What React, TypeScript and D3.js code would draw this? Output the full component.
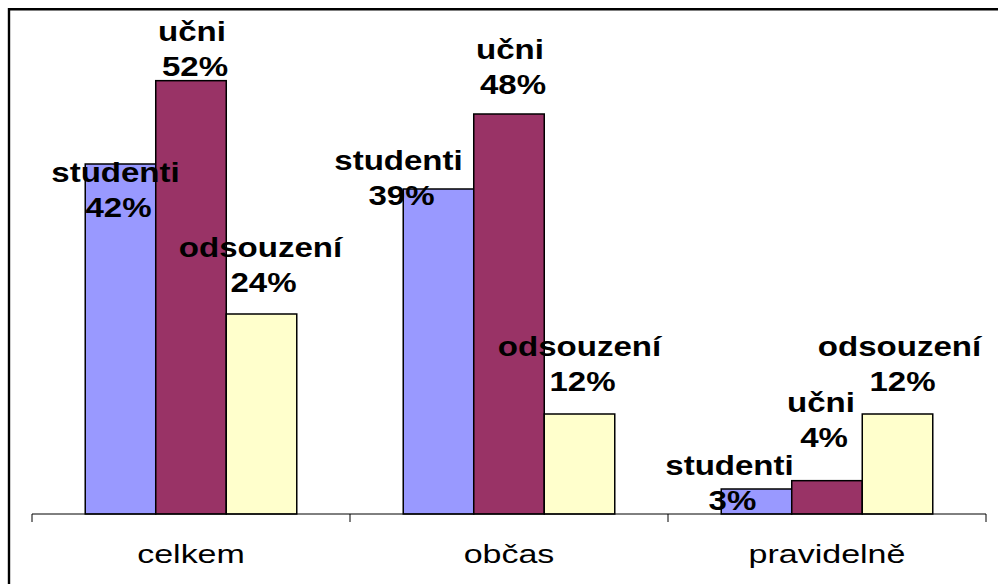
import React from "react";
import * as d3 from "d3";

// ---- data ----
const categories = ["celkem", "občas", "pravidelně"];
const seriesNames = ["studenti", "učni", "odsouzení"];
const studenti = [42, 39, 3];
const ucni = [52, 48, 4];
const odsouzeni = [24, 12, 12];
const seriesValues = [studenti, ucni, odsouzeni];
const seriesColors = ["#9999FF", "#993366", "#FFFFCC"];

// ---- layout (label nudges relative to bar centre / bar top), [series][category] ----
const labelNudge: [number, number][][] = [
  [[-5, 18], [-40, -19], [-27, -14]],
  [[1, -40], [1, -55], [-6, -69]],
  [[-1, -57], [0, -58], [2, -58]],
];

const W = 998;
const H = 584;
const FONT = "'Liberation Sans', Arial, Helvetica, sans-serif";

export default function App() {
  const x0 = d3.scaleBand<string>().domain(categories).range([32, 986]).paddingInner(0).paddingOuter(0);
  const x1 = d3
    .scaleBand<string>()
    .domain(seriesNames)
    .range([0, x0.bandwidth()])
    .paddingInner(0)
    .paddingOuter(0.755);
  const y = d3.scaleLinear().domain([0, 60]).range([514, 14]);

  const boundaries = [...categories.map((c) => x0(c)!), x0(categories[categories.length - 1])! + x0.bandwidth()];

  const sxBold = 1.18;
  const sxReg = 1.36;

  return (
    <svg
      width={W}
      height={H}
      style={{ position: "absolute", left: 0, top: 0, background: "#fff" }}
      fontFamily={FONT}
    >
      <rect x={0} y={0} width={W} height={H} fill="#fff" />
      {/* frame */}
      <line x1={8} x2={W} y1={9.2} y2={9.2} stroke="#000" strokeWidth={2.4} />
      <line x1={W} x2={W} y1={10.6} y2={10.6} stroke="#999" strokeWidth={1} />
      <line x1={9} x2={9} y1={8} y2={H} stroke="#000" strokeWidth={2.4} />

      {/* bars */}
      {seriesNames.map((s, si) =>
        categories.map((c, ci) => {
          const v = seriesValues[si][ci];
          const bx = x0(c)! + x1(s)!;
          return (
            <rect
              key={`b-${si}-${ci}`}
              x={bx}
              y={y(v)}
              width={x1.bandwidth()}
              height={y(0) - y(v)}
              fill={seriesColors[si]}
              stroke="#000"
              strokeWidth={1.5}
            />
          );
        })
      )}

      {/* axis */}
      <line x1={x0.range()[0]} x2={x0.range()[1]} y1={y(0)} y2={y(0)} stroke="#000" strokeWidth={1} />
      {boundaries.map((bx, i) => (
        <line key={`t-${i}`} x1={bx} x2={bx} y1={y(0)} y2={y(0) + 8} stroke="#000" strokeWidth={1} />
      ))}
      {categories.map((c) => (
        <text
          key={`c-${c}`}
          transform={`translate(${x0(c)! + x0.bandwidth() / 2},563) scale(${sxReg},1)`}
          textAnchor="middle"
          fontSize={25}
          fill="#000"
        >
          {c}
        </text>
      ))}

      {/* data labels */}
      {seriesNames.map((s, si) =>
        categories.map((c, ci) => {
          const v = seriesValues[si][ci];
          const cx = x0(c)! + x1(s)! + x1.bandwidth() / 2 + labelNudge[si][ci][0];
          const by = y(v) + labelNudge[si][ci][1];
          return (
            <g key={`l-${si}-${ci}`} fontWeight="bold" fontSize={28} fill="#000">
              <text transform={`translate(${cx},${by}) scale(${sxBold},1)`} textAnchor="middle">
                {s}
              </text>
              <text transform={`translate(${cx + 3},${by + 35}) scale(${sxBold},1)`} textAnchor="middle">
                {`${v}%`}
              </text>
            </g>
          );
        })
      )}
    </svg>
  );
}
